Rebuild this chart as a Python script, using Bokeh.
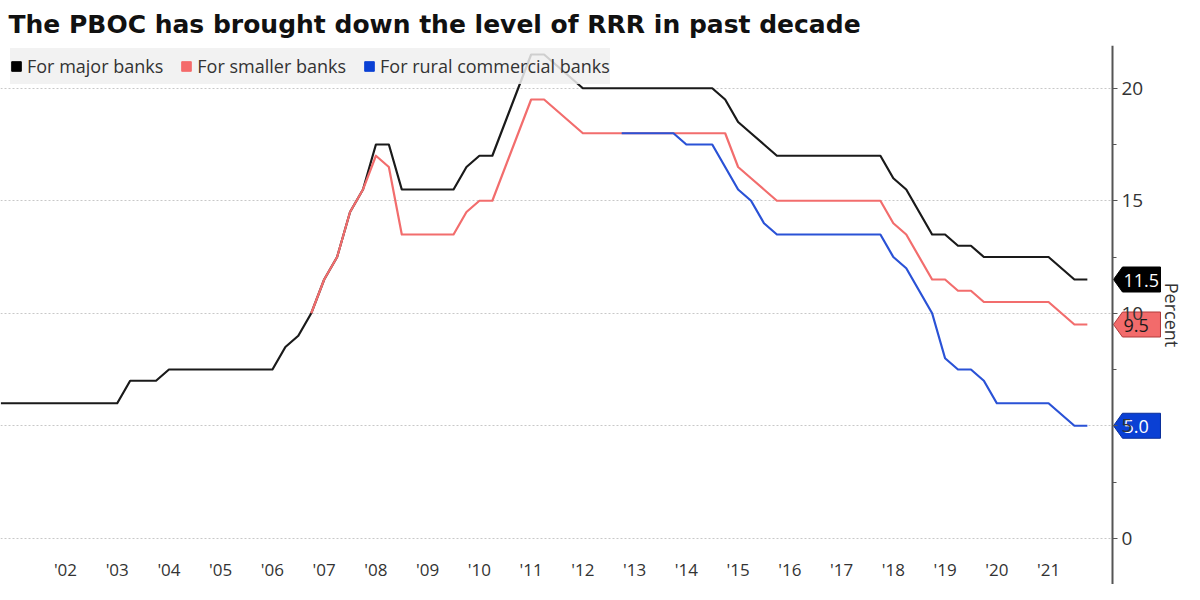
from bokeh.plotting import figure
from bokeh.models import Range1d, FixedTicker, Legend, LegendItem, ColumnDataSource
from bokeh.core.properties import value
from bokeh.embed import file_html
from bokeh.resources import INLINE

# ---- data (reserve requirement ratio, %, quarterly turning points) ----
major_x = [2000.75, 2003.0, 2003.25, 2003.75, 2004.0, 2006.0, 2006.25, 2006.5, 2006.75,
           2007.0, 2007.25, 2007.5, 2007.75, 2008.0, 2008.25, 2008.5, 2009.5, 2009.75,
           2010.0, 2010.25, 2011.0, 2011.25, 2012.0, 2014.5, 2014.75, 2015.0, 2015.25,
           2015.5, 2015.75, 2017.75, 2018.0, 2018.25, 2018.75, 2019.0, 2019.25, 2019.5,
           2019.75, 2021.0, 2021.5, 2021.75]
major_y = [6.0, 6.0, 7.0, 7.0, 7.5, 7.5, 8.5, 9.0, 10.0,
           11.5, 12.5, 14.5, 15.5, 17.5, 17.5, 15.5, 15.5, 16.5,
           17.0, 17.0, 21.5, 21.5, 20.0, 20.0, 19.5, 18.5, 18.0,
           17.5, 17.0, 17.0, 16.0, 15.5, 13.5, 13.5, 13.0, 13.0,
           12.5, 12.5, 11.5, 11.5]

small_x = [2006.75, 2007.0, 2007.25, 2007.5, 2007.75, 2008.0, 2008.25, 2008.5, 2009.5,
           2009.75, 2010.0, 2010.25, 2011.0, 2011.25, 2012.0, 2014.75, 2015.0, 2015.25,
           2015.5, 2015.75, 2017.75, 2018.0, 2018.25, 2018.75, 2019.0, 2019.25, 2019.5,
           2019.75, 2021.0, 2021.5, 2021.75]
small_y = [10.0, 11.5, 12.5, 14.5, 15.5, 17.0, 16.5, 13.5, 13.5,
           14.5, 15.0, 15.0, 19.5, 19.5, 18.0, 18.0, 16.5, 16.0,
           15.5, 15.0, 15.0, 14.0, 13.5, 11.5, 11.5, 11.0, 11.0,
           10.5, 10.5, 9.5, 9.5]

rural_x = [2012.75, 2013.75, 2014.0, 2014.5, 2015.0, 2015.25, 2015.5, 2015.75, 2017.75,
           2018.0, 2018.25, 2018.75, 2019.0, 2019.25, 2019.5, 2019.75, 2020.0, 2021.0,
           2021.5, 2021.75]
rural_y = [18.0, 18.0, 17.5, 17.5, 15.5, 15.0, 14.0, 13.5, 13.5,
           12.5, 12.0, 10.0, 8.0, 7.5, 7.5, 7.0, 6.0, 6.0,
           5.0, 5.0]

series_names = ["For major banks", "For smaller banks", "For rural commercial banks"]
series_colors = ["#1a1a1a", "#f26d6d", "#2a52d6"]
swatch_colors = ["#000000", "#f46b6b", "#0a40d4"]
box_colors = ["#000000", "#f26b6b", "#0a40d4"]
box_text_colors = ["#ffffff", "#1a1a1a", "#ffffff"]
box_border_colors = ["#000000", "#b03a3a", "#0a2f9a"]

year_ticks = list(range(2002, 2022))
year_labels = ["'02", "'03", "'04", "'05", "'06", "'07", "'08", "'09", "'10", "'11",
               "'12", "'13", "'14", "'15", "'16", "'17", "'18", "'19", "'20", "'21"]
y_ticks = [0, 5, 10, 15, 20]
y_minor = [2.5, 7.5, 12.5, 17.5]

title_text = "The PBOC has brought down the level of RRR in past decade"

# ---- geometry of the frame ----
W, H = 1184, 584
TOP = 45
PX_PER_YEAR = 51.74
PX_PER_UNIT = 22.5
X0 = 2000.744
X1 = X0 + W / PX_PER_YEAR
X_AXIS = 2022.236          # where the value axis sits
Y1 = 21.9
Y0 = Y1 - (H - TOP) / PX_PER_UNIT
Y_XAXIS = -0.8             # where the year labels hang

p = figure(width=W, height=H, output_backend="svg", toolbar_location=None,
           x_range=Range1d(X0, X1), y_range=Range1d(Y0, Y1),
           y_axis_location="right", title=title_text,
           min_border_left=0, min_border_top=TOP, min_border_right=0, min_border_bottom=0)
p.outline_line_color = None
p.background_fill_color = "white"
p.border_fill_color = "white"

p.title.text_font = "DejaVu Sans"
p.title.text_font_size = "25px"
p.title.text_font_style = "bold"
p.title.text_color = "#111111"
p.title.offset = 8
p.title.standoff = 14

# value axis (drawn inside the frame at a fixed x)
ya = p.yaxis[0]
ya.fixed_location = X_AXIS
ya.ticker = FixedTicker(ticks=y_ticks, minor_ticks=y_minor)
ya.axis_line_color = "#555555"
ya.axis_line_width = 2
ya.major_tick_line_color = "#555555"
ya.minor_tick_line_color = "#555555"
ya.major_tick_in = 0
ya.major_tick_out = 5
ya.minor_tick_in = 0
ya.minor_tick_out = 4
ya.major_label_standoff = 4
ya.major_label_text_font = "Open Sans"
ya.major_label_text_font_size = "19px"
ya.major_label_text_color = "#333333"
ya.axis_label = "Percent"
ya.axis_label_text_font = "Open Sans"
ya.axis_label_text_font_size = "18px"
ya.axis_label_text_font_style = "normal"
ya.axis_label_text_color = "#333333"
ya.axis_label_standoff = 14

# year axis
xa = p.xaxis[0]
xa.fixed_location = Y_XAXIS
xa.ticker = FixedTicker(ticks=year_ticks, minor_ticks=[])
xa.major_label_overrides = {yr: lab for yr, lab in zip(year_ticks, year_labels)}
xa.axis_line_color = None
xa.major_tick_line_color = None
xa.minor_tick_line_color = None
xa.major_tick_out = 0
xa.major_tick_in = 0
xa.major_label_standoff = 2
xa.major_label_text_font = "Open Sans"
xa.major_label_text_font_size = "17px"
xa.major_label_text_color = "#333333"

p.xgrid.grid_line_color = None
p.ygrid.ticker = FixedTicker(ticks=y_ticks)
p.ygrid.grid_line_color = "#c8c8c8"
p.ygrid.grid_line_dash = "2 2"
p.ygrid.grid_line_width = 1
p.ygrid.cross_bounds = (X0, X_AXIS)

# lines
all_x = [major_x, small_x, rural_x]
all_y = [major_y, small_y, rural_y]
for xs, ys, c in zip(all_x, all_y, series_colors):
    p.line(xs, ys, line_color=c, line_width=2.2, line_join="round")

# last-value tags next to the value axis
px_x = 1.0 / PX_PER_YEAR
half_h = 12.5 / PX_PER_UNIT
last_vals = [major_y[-1], small_y[-1], rural_y[-1]]
tag_xs, tag_ys = [], []
for v in last_vals:
    tag_xs.append([X_AXIS + 1 * px_x, X_AXIS + 10 * px_x, X_AXIS + 48 * px_x,
                   X_AXIS + 48 * px_x, X_AXIS + 10 * px_x])
    tag_ys.append([v, v + half_h, v + half_h, v - half_h, v - half_h])
tag_src = ColumnDataSource(dict(xs=tag_xs, ys=tag_ys, fill=box_colors, line=box_border_colors))
p.patches("xs", "ys", source=tag_src, fill_color="fill", line_color="line", line_width=1)
txt_src = ColumnDataSource(dict(x=[X_AXIS] * 3, y=last_vals,
                                t=[f"{v:.1f}" for v in last_vals], c=box_text_colors))
p.text("x", "y", text="t", source=txt_src, x_offset=11, y_offset=1, text_baseline="middle",
       text_align="left", text_font=value("Open Sans"), text_font_size="18px",
       text_color="c")

# legend with square swatches (swatch renderers hold one box outside the view)
items = []
for name, c in zip(series_names, swatch_colors):
    r = p.quad(left=[X0 - 6], right=[X0 - 5], bottom=[Y0 - 6], top=[Y0 - 5],
               fill_color=c, line_color=c)
    items.append(LegendItem(label=name, renderers=[r]))
frame_h = H - TOP
legend = Legend(items=items, orientation="horizontal", location=(10, frame_h - 39))
legend.margin = 0
legend.padding = 0
legend.spacing = 17
legend.label_standoff = 5
legend.glyph_width = 12
legend.glyph_height = 12
legend.label_height = 36
legend.label_text_font = "Open Sans"
legend.label_text_font_size = "18px"
legend.label_text_color = "#333333"
legend.background_fill_color = "#f0f0f0"
legend.background_fill_alpha = 0.85
legend.border_line_color = None
p.add_layout(legend, "center")

open("out.html", "w").write(file_html(p, INLINE))
